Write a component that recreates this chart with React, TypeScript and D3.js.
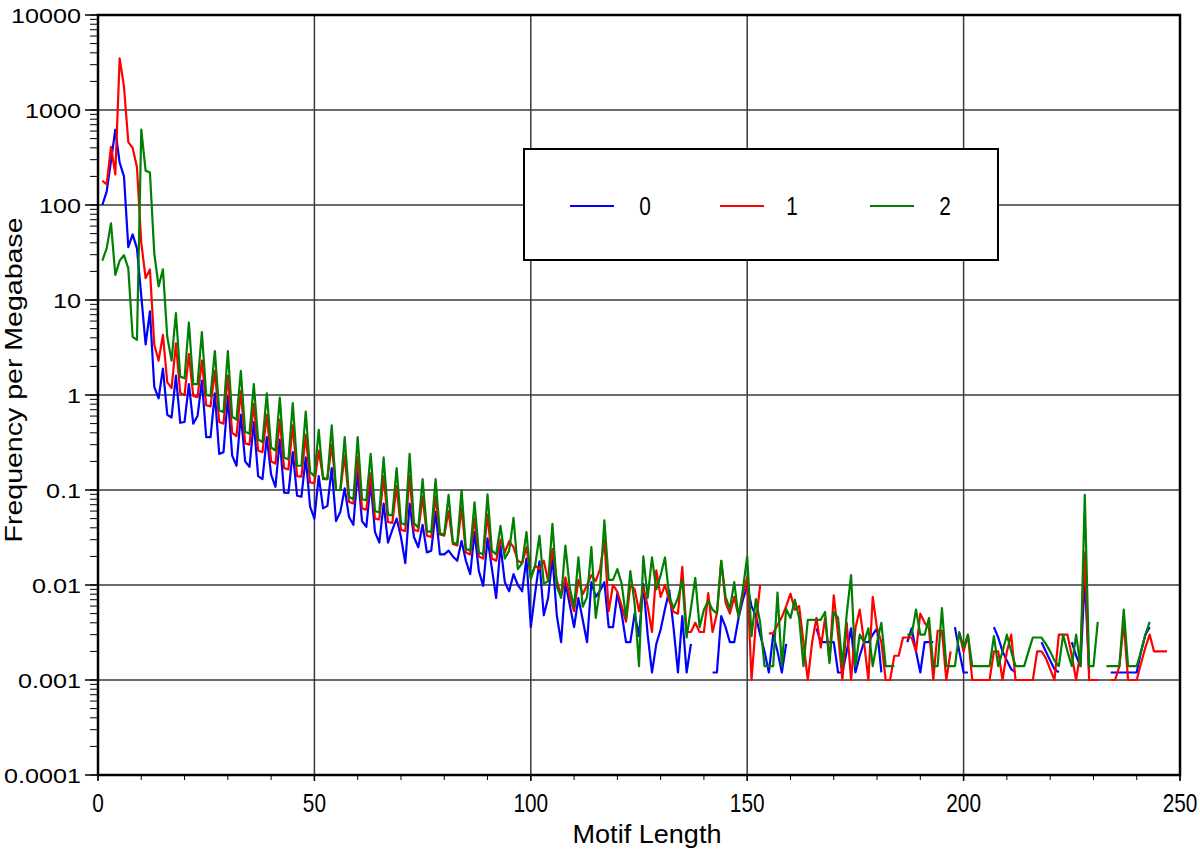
import * as d3 from "d3";

// motif length runs 1..247, one value per length (null = not plotted)
const series0 = [
  100, 138, 290, 620, 280, 200, 36, 49, 35, 11,
  3.4, 7.6, 1.22, 0.92, 1.9, 0.62, 0.58, 1.6, 0.51, 0.52,
  1.3, 0.5, 0.6, 1.42, 0.36, 0.36, 1.04, 0.24, 0.25, 0.96,
  0.23, 0.18, 0.62, 0.2, 0.175, 0.52, 0.14, 0.13, 0.36, 0.145,
  0.108, 0.34, 0.094, 0.093, 0.25, 0.087, 0.085, 0.22, 0.067, 0.05,
  0.14, 0.064, 0.068, 0.17, 0.047, 0.059, 0.104, 0.052, 0.043, 0.155,
  0.047, 0.041, 0.12, 0.036, 0.028, 0.072, 0.028, 0.038, 0.05, 0.032,
  0.017, 0.072, 0.032, 0.025, 0.043, 0.022, 0.023, 0.059, 0.021, 0.021,
  0.023, 0.02, 0.018, 0.029, 0.018, 0.013, 0.036, 0.014, 0.0098, 0.031,
  0.015, 0.0073, 0.026, 0.0107, 0.0086, 0.013, 0.01, 0.0086, 0.019, 0.0036,
  0.0082, 0.0177, 0.0048, 0.0073, 0.02, 0.0048, 0.0025, 0.0107, 0.0062, 0.0036,
  0.0073, 0.0043, 0.0025, 0.0107, 0.0075, 0.0087, 0.0107, 0.0036, 0.0036, 0.0082,
  0.005, 0.0025, 0.0025, 0.005, 0.0029, 0.0102, 0.003, 0.0012, 0.0024, 0.0034,
  0.0056, 0.0088, 0.0035, 0.0012, 0.0047, 0.0012, 0.0024, null, null, null,
  null, 0.0012, 0.0012, 0.0047, 0.0036, 0.0025, 0.0025, 0.0045, 0.007, 0.0097,
  0.006, 0.0047, 0.003, 0.002, 0.0012, 0.003, 0.002, 0.0012, 0.0024, null,
  null, null, null, null, null, 0.0035, 0.0025, 0.0025, 0.0025, 0.0025,
  0.0012, 0.0012, 0.002, 0.0035, 0.0012, 0.0018, 0.0025, 0.0025, 0.003, 0.0035,
  0.0012, null, null, null, null, null, 0.0025, 0.0035, 0.002, 0.0012,
  0.0025, 0.0025, 0.0025, null, null, null, null, 0.0036, 0.002, 0.0012,
  0.0012, null, null, null, null, null, 0.0036, 0.0028, 0.002, 0.0016,
  0.0013, 0.0012, null, null, null, null, null, 0.0025, 0.002, 0.0016,
  0.0013, 0.0012, null, null, 0.0025, 0.0018, 0.0014, 0.012, 0.0012, null,
  null, null, null, 0.0012, 0.0012, 0.0012, 0.0012, 0.0012, 0.0012, 0.0012,
  0.002, 0.003, 0.0036, null, null, null, null,
];

const series1 = [
  180, 165, 410, 210, 3500, 1760, 460, 400, 250, 40,
  17, 21, 3.4, 2.3, 4.3, 1.37, 1.18, 3.5, 1.05, 1.0,
  2.7, 0.98, 0.95, 2.3, 0.78, 0.76, 1.8, 0.52, 0.5, 1.6,
  0.4, 0.37, 1.1, 0.31, 0.3, 0.8, 0.26, 0.25, 0.62, 0.2,
  0.19, 0.55, 0.17, 0.165, 0.48, 0.14, 0.138, 0.38, 0.12, 0.118,
  0.26, 0.135, 0.13, 0.3, 0.1, 0.1, 0.23, 0.075, 0.072, 0.22,
  0.064, 0.062, 0.15, 0.05, 0.049, 0.14, 0.046, 0.045, 0.11, 0.038,
  0.037, 0.14, 0.038, 0.037, 0.085, 0.033, 0.032, 0.085, 0.034, 0.033,
  0.06, 0.027, 0.026, 0.065, 0.022, 0.021, 0.05, 0.02, 0.019, 0.055,
  0.019, 0.018, 0.03, 0.022, 0.029, 0.025, 0.018, 0.017, 0.025, 0.012,
  0.016, 0.0147, 0.018, 0.011, 0.024, 0.0112, 0.0076, 0.012, 0.0075, 0.0053,
  0.0113, 0.008, 0.01, 0.0127, 0.011, 0.0147, 0.03, 0.0053, 0.01, 0.0085,
  0.006, 0.0041, 0.01, 0.009, 0.0053, 0.0095, 0.006, 0.0032, 0.0143, 0.0075,
  0.01, 0.0068, 0.0052, 0.005, 0.0155, 0.0032, 0.0032, 0.004, 0.0032, 0.0032,
  0.0082, 0.0032, 0.005, 0.018, 0.0065, 0.005, 0.0075, 0.0047, 0.008, 0.012,
  0.001, 0.004, 0.01, null, 0.0031, 0.0031, 0.0038, 0.0046, 0.006, 0.0081,
  0.0055, 0.006, 0.0025, 0.001, 0.0025, 0.0045, 0.0022, 0.0045, 0.0016, 0.0078,
  0.003, 0.001, 0.004, 0.001, 0.0035, 0.0055, 0.0025, 0.001, 0.0075, 0.0035,
  0.0025, 0.001, 0.001, 0.0018, 0.0018, 0.0028, 0.0028, 0.0028, 0.002, 0.005,
  0.004, 0.0035, 0.001, 0.0033, 0.0033, 0.001, 0.002, null, 0.0031, 0.002,
  0.003, 0.001, 0.001, 0.001, 0.001, 0.001, 0.002, 0.002, 0.001, 0.002,
  0.003, 0.001, 0.001, 0.001, 0.001, 0.001, 0.002, 0.002, 0.0017, 0.0013,
  0.001, 0.003, 0.003, 0.003, 0.0018, 0.001, 0.002, 0.022, 0.001, 0.001,
  0.001, null, null, 0.001, 0.001, 0.0014, 0.004, 0.001, 0.001, 0.001,
  0.0015, 0.0022, 0.003, 0.002, 0.002, 0.002, 0.002,
];

const series2 = [
  26, 35, 64, 18.4, 26, 29.6, 21.5, 4.1, 3.8, 620,
  230, 220, 31, 13.9, 21, 4.1, 2.3, 7.3, 1.56, 1.5,
  5.8, 1.3, 1.3, 4.6, 1.0, 0.98, 2.9, 0.69, 0.66, 2.9,
  0.59, 0.55, 1.8, 0.41, 0.39, 1.3, 0.34, 0.32, 1.04, 0.28,
  0.26, 0.94, 0.22, 0.21, 0.82, 0.18, 0.18, 0.67, 0.155, 0.14,
  0.43, 0.13, 0.13, 0.48, 0.1, 0.1, 0.36, 0.085, 0.08, 0.36,
  0.08, 0.078, 0.24, 0.06, 0.058, 0.22, 0.055, 0.054, 0.17, 0.045,
  0.043, 0.24, 0.045, 0.04, 0.13, 0.037, 0.036, 0.13, 0.035, 0.034,
  0.089, 0.028, 0.027, 0.1, 0.024, 0.023, 0.074, 0.022, 0.021, 0.09,
  0.023, 0.021, 0.042, 0.019, 0.023, 0.051, 0.0147, 0.017, 0.036, 0.0116,
  0.016, 0.033, 0.0103, 0.011, 0.044, 0.0097, 0.0073, 0.026, 0.0093, 0.0059,
  0.0195, 0.0059, 0.0075, 0.025, 0.0045, 0.0093, 0.048, 0.0113, 0.0113, 0.0147,
  0.0103, 0.0045, 0.014, 0.0063, 0.0014, 0.02, 0.0073, 0.0195, 0.009, 0.0127,
  0.0195, 0.0075, 0.0057, 0.0073, 0.0113, 0.0028, 0.0057, 0.0119, 0.0036, 0.0055,
  0.0068, 0.0055, 0.005, 0.018, 0.0075, 0.0056, 0.0107, 0.0046, 0.009, 0.02,
  0.0029, 0.0071, 0.004, 0.0014, 0.0014, 0.0014, 0.0083, 0.0014, 0.0056, 0.0045,
  0.007, 0.0045, 0.0014, 0.0043, 0.0043, 0.0043, 0.0043, 0.0052, 0.0015, 0.0052,
  0.0045, 0.0014, 0.005, 0.0127, 0.0014, 0.003, 0.0025, 0.0035, 0.0014, 0.0025,
  0.004, 0.0014, 0.0014, 0.0014, null, null, 0.003, 0.003, 0.0055, 0.003,
  0.003, 0.0045, 0.0014, 0.0014, 0.0057, 0.0014, 0.0014, 0.0014, 0.0032, 0.0022,
  0.003, 0.0014, 0.0014, 0.0014, 0.0014, 0.0014, 0.0029, 0.0014, 0.002, 0.003,
  0.002, 0.0014, 0.0014, 0.0014, 0.002, 0.0028, 0.0028, 0.0028, 0.0024, 0.002,
  0.0016, 0.0014, 0.003, 0.002, 0.0014, 0.003, 0.0014, 0.089, 0.0014, 0.0014,
  0.0041, null, 0.0014, 0.0014, 0.0014, 0.0014, 0.0055, 0.0014, 0.0014, 0.0014,
  0.002, 0.003, 0.0041, null, null, null, null,
];

const seriesNames = ["0", "1", "2"];
const seriesColors = ["#0000ff", "#ff0000", "#008000"];

const xTicks = [0, 50, 100, 150, 200, 250];
const yTicks = [10000, 1000, 100, 10, 1, 0.1, 0.01, 0.001, 0.0001];
const yTickLabels = ["10000", "1000", "100", "10", "1", "0.1", "0.01", "0.001", "0.0001"];

const font = "'Liberation Sans', Arial, Helvetica, sans-serif";

export default function App() {
  const width = 1200;
  const height = 849;
  const left = 98, right = 1180, top = 15, bottom = 775;

  const x = d3.scaleLinear().domain([0, 250]).range([left, right]);
  const y = d3.scaleLog().domain([0.0001, 10000]).range([bottom, top]);

  const line = d3
    .line<number | null>()
    .defined((d) => d != null)
    .x((_, i) => x(i + 1))
    .y((d) => y(d as number));

  const allSeries = [series0, series1, series2];
  const minorY = y.ticks();
  const minorX = x.ticks(25);

  return (
    <svg
      width={width}
      height={height}
      style={{ position: "absolute", left: 0, top: 0, background: "#fff" }}
      fontFamily={font}
    >
      {/* grid */}
      {yTicks.slice(1, -1).map((t) => (
        <line key={"gy" + t} x1={left} x2={right} y1={y(t)} y2={y(t)} stroke="#3a3a3a" strokeWidth={1.5} />
      ))}
      {xTicks.slice(1, -1).map((t) => (
        <line key={"gx" + t} x1={x(t)} x2={x(t)} y1={top} y2={bottom} stroke="#3a3a3a" strokeWidth={1.5} />
      ))}

      {/* data */}
      <g fill="none" strokeWidth={2.2} strokeLinejoin="round">
        {allSeries.map((s, i) => (
          <path key={i} d={line(s) ?? ""} stroke={seriesColors[i]} />
        ))}
      </g>

      {/* y ticks */}
      {minorY.map((t, i) => (
        <line key={"my" + i} x1={left - 8} x2={left} y1={y(t)} y2={y(t)} stroke="#000" strokeWidth={1} />
      ))}
      {yTicks.map((t) => (
        <line key={"ty" + t} x1={left - 13} x2={left} y1={y(t)} y2={y(t)} stroke="#000" strokeWidth={1.5} />
      ))}
      {yTicks.map((t, i) => (
        <text
          key={"ly" + t}
          transform={`translate(81,${y(t)}) scale(1.2,1)`}
          dy="0.36em"
          textAnchor="end"
          fontSize={21}
          fill="#000"
        >
          {yTickLabels[i]}
        </text>
      ))}

      {/* x ticks */}
      {minorX.map((t) => (
        <line key={"mx" + t} x1={x(t)} x2={x(t)} y1={bottom} y2={bottom + 5} stroke="#000" strokeWidth={1} />
      ))}
      {xTicks.map((t) => (
        <line key={"tx" + t} x1={x(t)} x2={x(t)} y1={bottom} y2={bottom + 6} stroke="#000" strokeWidth={1.5} />
      ))}
      {xTicks.map((t) => (
        <text
          key={"lx" + t}
          transform={`translate(${x(t)},812) scale(0.8,1)`}
          textAnchor="middle"
          fontSize={26}
          fill="#000"
        >
          {t}
        </text>
      ))}

      {/* frame */}
      <rect x={left} y={top} width={right - left} height={bottom - top} fill="none" stroke="#000" strokeWidth={2.5} />

      {/* axis titles */}
      <text x={647} y={843} textAnchor="middle" fontSize={25} textLength={149} lengthAdjust="spacingAndGlyphs">
        Motif Length
      </text>
      <text
        transform="translate(22,380) rotate(-90)"
        textAnchor="middle"
        fontSize={24}
        textLength={325}
        lengthAdjust="spacingAndGlyphs"
      >
        Frequency per Megabase
      </text>

      {/* legend */}
      <rect x={524} y={149} width={474} height={111} fill="#fff" stroke="#000" strokeWidth={2} />
      {seriesNames.map((n, i) => {
        const lx = [570, 720, 870][i];
        const tx = [645, 792, 945][i];
        return (
          <g key={"lg" + n}>
            <line x1={lx} x2={lx + 44} y1={206} y2={206} stroke={seriesColors[i]} strokeWidth={2.2} />
            <text transform={`translate(${tx},215) scale(0.8,1)`} textAnchor="middle" fontSize={26}>
              {n}
            </text>
          </g>
        );
      })}
    </svg>
  );
}
